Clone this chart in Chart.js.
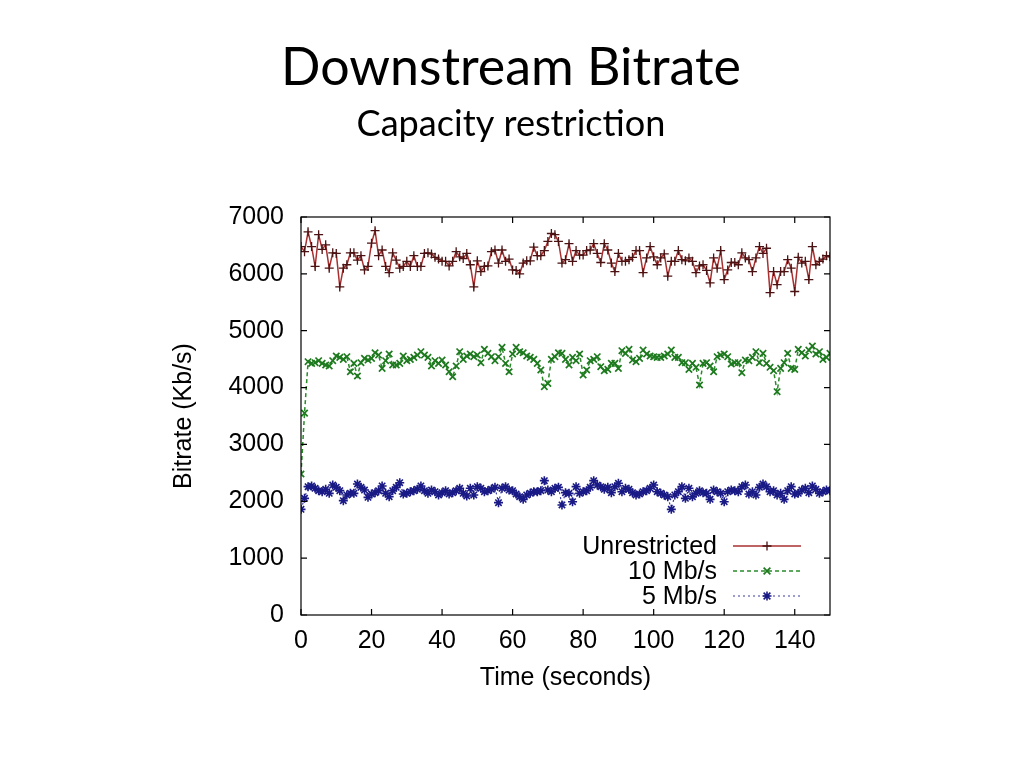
<!DOCTYPE html>
<html>
<head>
<meta charset="utf-8">
<title>Downstream Bitrate</title>
<script src="https://cdn.jsdelivr.net/npm/chart.js@4.4.0/dist/chart.umd.min.js"></script>
<style>
    html, body { margin: 0; padding: 0; background: #fff; }
    #wrap { width: 1024px; height: 768px; }
</style>
</head>
<body>
<div id="wrap"><canvas id="chart" width="1024" height="768"></canvas></div>
<script>
// one sample per second, 0..150 s
var seconds = [];
for (var s = 0; s <= 150; s++) seconds.push(s);

var unrestricted = [
    6480, 6390, 6740, 6480, 6130, 6690, 6430, 6510, 6100, 6370,
    6360, 5770, 6100, 6160, 6370, 6370, 6240, 6320, 6070, 6130,
    6540, 6760, 6320, 6420, 6130, 6020, 6370, 6240, 6100, 6130,
    6220, 6130, 6320, 6130, 6130, 6360, 6370, 6350, 6290, 6260,
    6220, 6220, 6140, 6220, 6390, 6300, 6270, 6360, 6160, 5770,
    6230, 6040, 6130, 6140, 6390, 6420, 6190, 6420, 6220, 6260,
    6070, 6060, 6000, 6190, 6230, 6230, 6470, 6320, 6320, 6410,
    6570, 6710, 6690, 6570, 6190, 6250, 6530, 6220, 6410, 6330,
    6330, 6410, 6420, 6530, 6360, 6200, 6530, 6420, 6190, 6040,
    6360, 6220, 6220, 6250, 6290, 6410, 6410, 6020, 6280, 6480,
    6300, 6160, 6280, 6350, 5960, 6220, 6220, 6410, 6250, 6230,
    6280, 6220, 6020, 6140, 6160, 6060, 5840, 6280, 6100, 6410,
    5900, 6070, 6200, 6200, 6160, 6370, 6280, 6250, 6040, 6280,
    6480, 6360, 6450, 5670, 6040, 5810, 6040, 6040, 6250, 6100,
    5690, 6290, 6190, 6220, 5900, 6480, 6160, 6220, 6260, 6320,
    6300
];

var mbit10 = [
    2480, 3550, 4455, 4426, 4438, 4473, 4426, 4397, 4379, 4473,
    4555, 4531, 4496, 4543, 4279, 4426, 4203, 4438, 4514, 4484,
    4514, 4613, 4572, 4338, 4473, 4590, 4397, 4397, 4426, 4555,
    4473, 4496, 4531, 4572, 4631, 4572, 4531, 4379, 4473, 4426,
    4484, 4397, 4279, 4191, 4379, 4631, 4496, 4555, 4590, 4543,
    4572, 4438, 4672, 4602, 4543, 4473, 4543, 4707, 4426, 4279,
    4590, 4707, 4631, 4613, 4555, 4531, 4496, 4426, 4309, 4016,
    4074, 4496, 4543, 4613, 4602, 4496, 4397, 4531, 4473, 4590,
    4221, 4309, 4473, 4496, 4543, 4367, 4297, 4320, 4426, 4426,
    4338, 4649, 4602, 4672, 4484, 4455, 4514, 4660, 4590, 4555,
    4543, 4531, 4531, 4555, 4590, 4660, 4531, 4531, 4438, 4438,
    4320, 4426, 4356, 4045, 4426, 4438, 4379, 4279, 4543, 4572,
    4590, 4543, 4414, 4438, 4438, 4262, 4484, 4473, 4531, 4631,
    4438, 4602, 4426, 4356, 4297, 3928, 4338, 4438, 4602, 4338,
    4320, 4672, 4613, 4555, 4660, 4731, 4590, 4631, 4496, 4531,
    4602
];

var mbit5 = [
    1858, 2052, 2257, 2269, 2228, 2187, 2169, 2210, 2140, 2286,
    2245, 2187, 2011, 2111, 2140, 2140, 2304, 2245, 2198, 2069,
    2128, 2152, 2187, 2269, 2140, 2081, 2187, 2245, 2327, 2128,
    2140, 2169, 2187, 2210, 2269, 2187, 2140, 2198, 2169, 2111,
    2152, 2187, 2128, 2152, 2187, 2228, 2140, 2093, 2228, 2111,
    2257, 2228, 2169, 2187, 2210, 2245, 1976, 2228, 2257, 2198,
    2187, 2128, 2081, 2034, 2111, 2140, 2169, 2169, 2187, 2363,
    2198, 2169, 2228, 2245, 1935, 2152, 2140, 1993, 2257, 2140,
    2169, 2187, 2245, 2363, 2286, 2257, 2210, 2245, 2152, 2257,
    2316, 2169, 2228, 2210, 2152, 2111, 2128, 2169, 2187, 2228,
    2286, 2169, 2140, 2111, 2081, 1858, 2111, 2169, 2257, 2052,
    2228, 2081, 2140, 2187, 2152, 2140, 2034, 2198, 2169, 2140,
    1993, 2169, 2198, 2187, 2169, 2257, 2286, 2128, 2169, 2111,
    2245, 2304, 2257, 2169, 2187, 2111, 2140, 2034, 2187, 2257,
    2128, 2140, 2198, 2228, 2152, 2269, 2210, 2140, 2169, 2198,
    2187
];

var seriesNames = ['Unrestricted', '10 Mb/s', '5 Mb/s'];
var timeTicks = [0, 20, 40, 60, 80, 100, 120, 140];
var rateTicks = [0, 1000, 2000, 3000, 4000, 5000, 6000, 7000];

var axisFont = { family: '"Liberation Sans", Arial, sans-serif', size: 25 };

function drawMarker(ctx, style, x, y, r) {
    ctx.beginPath();
    if (style == 'cross' || style == 'star') {
        ctx.moveTo(x - r, y); ctx.lineTo(x + r, y);
        ctx.moveTo(x, y - r); ctx.lineTo(x, y + r);
    }
    if (style == 'crossRot' || style == 'star') {
        var d = r * 0.75;
        ctx.moveTo(x - d, y - d); ctx.lineTo(x + d, y + d);
        ctx.moveTo(x - d, y + d); ctx.lineTo(x + d, y - d);
    }
    ctx.stroke();
}

function fitFont(ctx, text, family, width) {
    ctx.font = '100px ' + family;
    return 100 * width / ctx.measureText(text).width;
}

// slide heading above the plot
var headingPlugin = {
    id: 'heading',
    afterDraw: function (chart) {
        var ctx = chart.ctx;
        var family = 'Lato, "Open Sans", sans-serif';
        ctx.save();
        ctx.fillStyle = '#000';
        ctx.textAlign = 'center';
        ctx.textBaseline = 'alphabetic';
        var size = fitFont(ctx, 'Downstream Bitrate', family, 460);
        ctx.font = size + 'px ' + family;
        ctx.fillText('Downstream Bitrate', 511, 85);
        size = fitFont(ctx, 'Capacity restriction', family, 309);
        ctx.font = size + 'px ' + family;
        ctx.fillText('Capacity restriction', 511, 136);
        ctx.restore();
    }
};

// gnuplot style frame with inward mirrored tics
var framePlugin = {
    id: 'frame',
    afterDraw: function (chart) {
        var ctx = chart.ctx;
        var area = chart.chartArea;
        var xs = chart.scales.x;
        var ys = chart.scales.y;
        var len = 6;
        ctx.save();
        ctx.strokeStyle = '#000';
        ctx.lineWidth = 1.2;
        ctx.strokeRect(area.left, area.top, area.right - area.left, area.bottom - area.top);
        ctx.beginPath();
        xs.ticks.forEach(function (t) {
            var px = xs.getPixelForValue(t.value);
            ctx.moveTo(px, area.bottom); ctx.lineTo(px, area.bottom - len);
            ctx.moveTo(px, area.top); ctx.lineTo(px, area.top + len);
        });
        ys.ticks.forEach(function (t) {
            var py = ys.getPixelForValue(t.value);
            ctx.moveTo(area.left, py); ctx.lineTo(area.left + len, py);
            ctx.moveTo(area.right, py); ctx.lineTo(area.right - len, py);
        });
        ctx.stroke();
        ctx.restore();
    }
};

// key in the lower right corner, text left of the sample
var keyPlugin = {
    id: 'key',
    afterDraw: function (chart) {
        var ctx = chart.ctx;
        var area = chart.chartArea;
        ctx.save();
        ctx.font = axisFont.size + 'px ' + axisFont.family;
        ctx.textAlign = 'right';
        ctx.textBaseline = 'middle';
        chart.data.datasets.forEach(function (ds, i) {
            var y = area.bottom - 69 + i * 25;
            var x1 = area.right - 97;
            var x2 = area.right - 29;
            ctx.fillStyle = '#000';
            ctx.fillText(ds.label, area.right - 113, y + 1);
            ctx.strokeStyle = ds.borderColor;
            ctx.lineWidth = ds.borderWidth;
            ctx.setLineDash(ds.borderDash || []);
            ctx.beginPath();
            ctx.moveTo(x1, y); ctx.lineTo(x2, y);
            ctx.stroke();
            ctx.setLineDash([]);
            ctx.strokeStyle = ds.pointBorderColor;
            ctx.lineWidth = ds.pointBorderWidth;
            drawMarker(ctx, ds.pointStyle, (x1 + x2) / 2, y, ds.pointRadius);
        });
        ctx.restore();
    }
};

var ctx = document.getElementById('chart').getContext('2d');
var myChart = new Chart(ctx, {
    type: 'line',
    data: {
        labels: seconds,
        datasets: [{
            label: seriesNames[0],
            data: unrestricted,
            borderColor: '#a83030',
            borderWidth: 1.5,
            pointStyle: 'cross',
            pointRadius: 4.5,
            pointBorderWidth: 1.3,
            pointBorderColor: '#4a1212',
            tension: 0
        }, {
            label: seriesNames[1],
            data: mbit10,
            borderColor: '#2a8a2a',
            borderWidth: 1.5,
            borderDash: [4, 3],
            pointStyle: 'crossRot',
            pointRadius: 4.5,
            pointBorderWidth: 1.7,
            pointBorderColor: '#1e7a1e',
            tension: 0
        }, {
            label: seriesNames[2],
            data: mbit5,
            borderColor: '#3a3aa0',
            borderWidth: 1.2,
            borderDash: [2, 3],
            pointStyle: 'star',
            pointRadius: 4.5,
            pointBorderWidth: 1.6,
            pointBorderColor: '#1a1a86',
            tension: 0
        }]
    },
    options: {
        responsive: false,
        animation: false,
        layout: { padding: { left: 169, top: 217, right: 194, bottom: 75 } },
        plugins: {
            legend: { display: false },
            tooltip: { enabled: false }
        },
        scales: {
            x: {
                type: 'linear',
                min: 0,
                max: 150,
                afterBuildTicks: function (scale) {
                    scale.ticks = timeTicks.map(function (v) { return { value: v }; });
                },
                afterFit: function (scale) { scale.height = 78; },
                grid: { display: false, drawTicks: false },
                border: { display: false },
                ticks: {
                    font: axisFont, color: '#000', padding: 11, maxRotation: 0,
                    callback: function (value) { return String(value); }
                },
                title: { display: true, text: 'Time (seconds)', font: axisFont, color: '#000', padding: 0 }
            },
            y: {
                min: 0,
                max: 7000,
                afterBuildTicks: function (scale) {
                    scale.ticks = rateTicks.map(function (v) { return { value: v }; });
                },
                afterFit: function (scale) { scale.width = 132; },
                grid: { display: false, drawTicks: false },
                border: { display: false },
                ticks: {
                    font: axisFont, color: '#000', padding: 17,
                    callback: function (value) { return String(value); }
                },
                title: { display: true, text: 'Bitrate (Kb/s)', font: axisFont, color: '#000', padding: 0 }
            }
        }
    },
    plugins: [headingPlugin, framePlugin, keyPlugin]
});
</script>
</body>
</html>
